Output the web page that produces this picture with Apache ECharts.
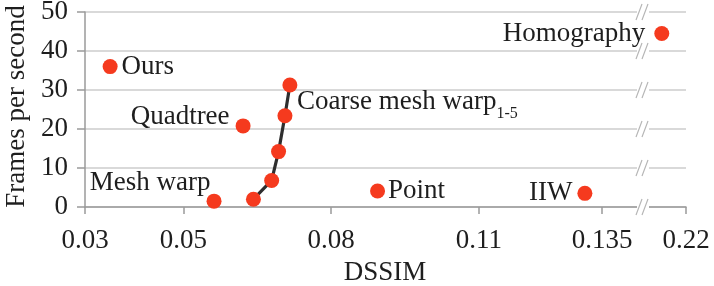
<!DOCTYPE html>
<html>
<head>
<meta charset="utf-8">
<script src="https://cdn.jsdelivr.net/npm/echarts@6.0.0/dist/echarts.min.js"></script>
<style>
html,body{margin:0;padding:0;background:#fff;}
#chart{width:714px;height:286px;}
</style>
</head>
<body>
<div id="chart"></div>
<script>
// ---- data ----
const dssimTicksLeft = [0.03, 0.05, 0.08, 0.11, 0.135];
const dssimTicksRight = [0.22];
const fpsTicks = [0, 10, 20, 30, 40, 50];

const methodNames = ['Ours', 'Quadtree', 'Mesh warp', 'Point', 'IIW'];
const methodDssim = [0.0351, 0.0621, 0.0562, 0.0894, 0.1315];
const methodFps = [36.0, 20.8, 1.5, 4.1, 3.5];

const coarseName = 'Coarse mesh warp';
const coarseDssim = [0.0642, 0.0679, 0.0693, 0.0706, 0.0716];
const coarseFps = [2.0, 6.8, 14.2, 23.4, 31.3];

const homographyName = 'Homography';
const homographyDssim = [0.2151];
const homographyFps = [44.5];

// axis ranges (broken x axis)
const leftMin = 0.03, leftMax = 0.1433;
const rightMin = 0.2113, rightMax = 0.22;

// ---- styles ----
const FONT = '"Liberation Serif", "Times New Roman", serif';
const TXT = '#1e1e1e';
const RED = '#F53A1E';
const GRID = '#d9d9d9';
const AXIS = '#9a9a9a';
const FS = 27;

const labelCfg = {
  'Ours': {position: 'right', distance: 4},
  'Quadtree': {position: 'left', distance: 6, offset: [0, -9]},
  'Mesh warp': {position: 'left', distance: 5, offset: [9, -18]},
  'Point': {position: 'right', distance: 3},
  'IIW': {position: 'left', distance: 5}
};

const chart = echarts.init(document.getElementById('chart'), null, {renderer: 'canvas'});

const labelText = {fontFamily: FONT, fontSize: FS, color: TXT};

const option = {
  animation: false,
  backgroundColor: '#fff',
  grid: [
    {left: 85, top: 12, width: 558, height: 195, containLabel: false, outerBoundsMode: 'none'},
    {left: 643, top: 12, width: 43, height: 195, containLabel: false, outerBoundsMode: 'none'}
  ],
  xAxis: [
    {
      type: 'value', gridIndex: 0, min: leftMin, max: leftMax,
      axisLine: {show: true, lineStyle: {color: AXIS, width: 1.5}},
      axisTick: {show: true, length: 7, lineStyle: {color: AXIS, width: 1.5}, customValues: dssimTicksLeft},
      axisLabel: {show: true, customValues: dssimTicksLeft, margin: 20, fontFamily: FONT, fontSize: FS, color: TXT, lineHeight: FS,
        formatter: v => String(Math.round(v * 1000) / 1000)},
      splitLine: {show: false}
    },
    {
      type: 'value', gridIndex: 1, min: rightMin, max: rightMax,
      axisLine: {show: true, lineStyle: {color: AXIS, width: 1.5}},
      axisTick: {show: true, length: 7, lineStyle: {color: AXIS, width: 1.5}, customValues: dssimTicksRight},
      axisLabel: {show: true, customValues: dssimTicksRight, margin: 20, fontFamily: FONT, fontSize: FS, color: TXT, lineHeight: FS,
        formatter: v => String(Math.round(v * 1000) / 1000)},
      splitLine: {show: false}
    }
  ],
  yAxis: [
    {
      type: 'value', gridIndex: 0, min: fpsTicks[0], max: fpsTicks[fpsTicks.length - 1], interval: 10,
      name: 'Frames per second', nameLocation: 'middle', nameGap: 52,
      nameTextStyle: {fontFamily: FONT, fontSize: FS, color: TXT, padding: [0, 0, 0, 6]},
      axisLine: {show: true, lineStyle: {color: AXIS, width: 1.5}},
      axisTick: {show: true, length: 8, lineStyle: {color: AXIS, width: 1.5}},
      axisLabel: {margin: 17, fontFamily: FONT, fontSize: FS, color: TXT},
      splitLine: {show: true, lineStyle: {color: GRID, width: 2}}
    },
    {
      type: 'value', gridIndex: 1, min: fpsTicks[0], max: fpsTicks[fpsTicks.length - 1], interval: 10,
      axisLine: {show: false}, axisTick: {show: false}, axisLabel: {show: false},
      splitLine: {show: true, lineStyle: {color: GRID, width: 2}}
    }
  ],
  graphic: [
    {type: 'text', x: 385, y: 273, style: {text: 'DSSIM', fontFamily: FONT, fontSize: FS, fill: TXT, align: 'center', verticalAlign: 'middle'}}
  ],
  series: [
    {
      type: 'custom', name: 'break', xAxisIndex: 0, yAxisIndex: 0, z: 5, silent: true, clip: false,
      data: fpsTicks.map(v => [leftMax, v]),
      renderItem: function (params, api) {
        const p = api.coord([api.value(0), api.value(1)]);
        const c = p[0], y = p[1];
        const ls = {stroke: '#b5b5b5', lineWidth: 1.2};
        return {
          type: 'group',
          children: [
            {type: 'rect', shape: {x: c - 6, y: y - 2.5, width: 12, height: 5}, style: {fill: '#fff'}},
            {type: 'line', shape: {x1: c - 7, y1: y + 8, x2: c - 1, y2: y - 8}, style: ls},
            {type: 'line', shape: {x1: c - 1, y1: y + 8, x2: c + 5, y2: y - 8}, style: ls}
          ]
        };
      }
    },
    {
      type: 'line', name: coarseName, xAxisIndex: 0, yAxisIndex: 0, z: 6,
      data: coarseDssim.map((x, i) => [x, coarseFps[i]]),
      lineStyle: {color: '#2e2e2e', width: 3.2},
      symbol: 'circle', symbolSize: 15, showAllSymbol: true,
      itemStyle: {color: RED, borderWidth: 0, opacity: 1},
      label: {show: false}
    },
    {
      type: 'scatter', name: 'coarseLabel', xAxisIndex: 0, yAxisIndex: 0, z: 7, silent: true,
      itemStyle: {opacity: 1},
      data: [{value: [coarseDssim[3], coarseFps[3]], symbolSize: 0}],
      label: {
        show: true, position: 'right', distance: 12, offset: [0, -14],
        formatter: coarseName + '{sub|1-5}',
        fontFamily: FONT, fontSize: FS, color: TXT, lineHeight: 40,
        rich: {sub: {fontFamily: FONT, fontSize: 16, color: TXT, lineHeight: 16, verticalAlign: 'bottom'}}
      }
    },
    {
      type: 'scatter', name: 'methods', xAxisIndex: 0, yAxisIndex: 0, z: 6,
      symbolSize: 15, itemStyle: {color: RED, opacity: 1},
      data: methodNames.map((n, i) => ({
        name: n, value: [methodDssim[i], methodFps[i]],
        label: Object.assign({show: true, formatter: n}, labelText, labelCfg[n])
      }))
    },
    {
      type: 'scatter', name: homographyName, xAxisIndex: 1, yAxisIndex: 1, z: 6,
      symbolSize: 15, itemStyle: {color: RED, opacity: 1},
      data: homographyDssim.map((x, i) => ({
        name: homographyName, value: [x, homographyFps[i]],
        label: Object.assign({show: true, formatter: homographyName, position: 'left', distance: 9}, labelText)
      }))
    }
  ]
};
chart.setOption(option);
</script>
</body>
</html>
